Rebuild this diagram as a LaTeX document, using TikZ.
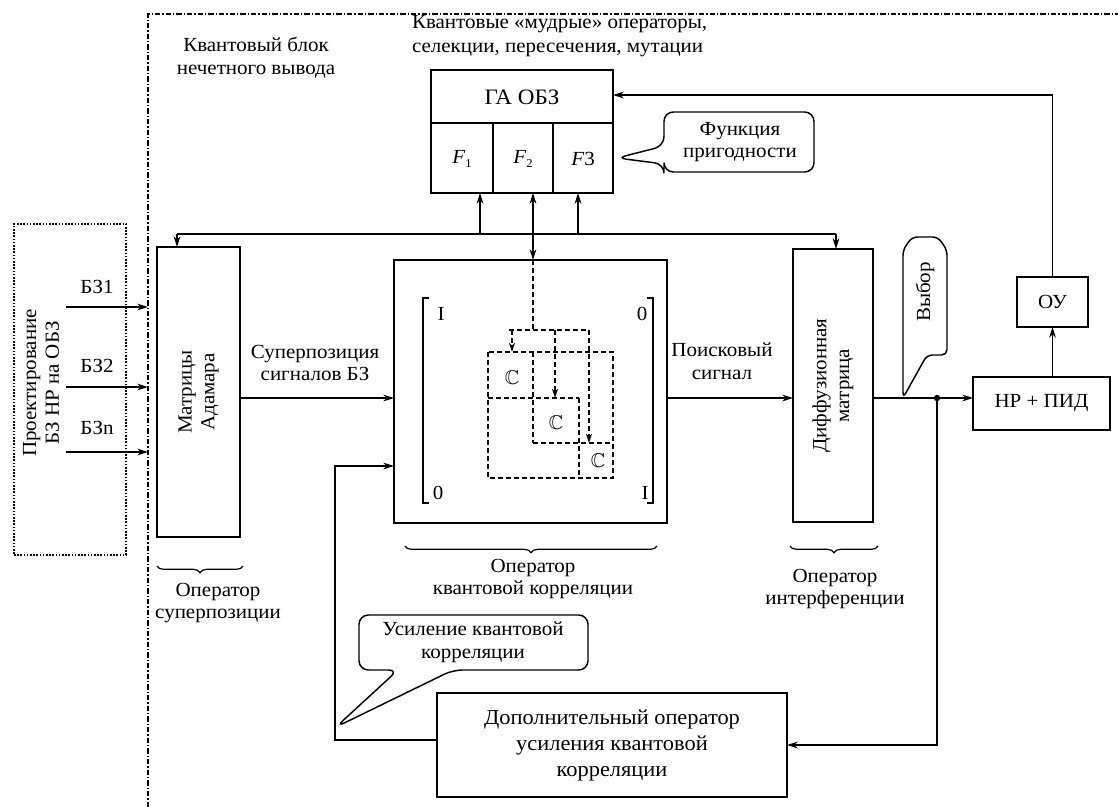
\documentclass[tikz,border=0pt]{standalone}
\usepackage{fontspec}
\setmainfont{Liberation Serif}[FakeStretch=1.05]
\usepackage{amssymb}
\usetikzlibrary{arrows.meta,decorations.pathreplacing,fit}
\begin{document}
\begin{tikzpicture}[x=0.75pt,y=-0.75pt,
  every node/.style={inner sep=0pt,outer sep=0pt},
  txt/.style={font=\fontsize{15}{17}\selectfont,align=center},
  bigtxt/.style={font=\fontsize{16}{19.5}\selectfont,align=center},
  thickbox/.style={draw,line width=1.5pt},
  thinbox/.style={draw,line width=0.85pt},
  conn/.style={line width=0.9pt},
  arr/.style={conn,-{Stealth[length=8pt,width=5pt]}},
  darr/.style={conn,{Stealth[length=8pt,width=5pt]}-{Stealth[length=8pt,width=5pt]}},
  dsh/.style={line width=0.9pt,dash pattern=on 3.5pt off 2.5pt},
  darrd/.style={dsh,-{Stealth[length=7pt,width=4.5pt]}},
  bubble/.style={draw,line width=1.1pt,rounded corners=7pt},
  opbrace/.style={conn,decorate,decoration={brace,mirror,amplitude=5pt}},
]
\useasboundingbox (0,0) rectangle (1118,807);

% outer frame of the quantum block
\draw[line width=0.8pt,dash pattern=on 4pt off 1.5pt on 1pt off 1.5pt] (148,807) -- (148,14) -- (1118,14);

% projection box
\node[draw,line width=0.8pt,dash pattern=on 1.2pt off 1.2pt,fit={(14,224)(126,555)}] (proj) {};
\node[txt,rotate=90] (projtxt) at (41,383) {Проектирование\\БЗ НР на ОБЗ};
\node[txt] (bz1) at (97,287) {БЗ1};
\node[txt] (bz2) at (97,366) {БЗ2};
\node[txt] (bzn) at (97,428) {БЗn};
\coordinate (s1) at (66,307); \coordinate (e1) at (148,307);
\coordinate (s2) at (66,387); \coordinate (e2) at (148,387);
\coordinate (s3) at (66,452); \coordinate (e3) at (148,452);
\draw[arr] (s1) -- (e1);
\draw[arr] (s2) -- (e2);
\draw[arr] (s3) -- (e3);

% titles
\node[txt,anchor=north west,align=left,font=\fontsize{15}{18.5}\selectfont] (qops) at (412,15) {Квантовые «мудрые» операторы,\\селекции, пересечения, мутации};
\node[txt] (qblock) at (256,58) {Квантовый блок\\нечетного вывода};

% Hadamard
\node[thickbox,fit={(157,247)(240,537)}] (had) {};
\node[txt,rotate=90] (hadtxt) at (had.center) {Матрицы\\Адамара};

% correlation operator
\node[thinbox,fit={(394,260)(667,523)}] (corr) {};
\draw[conn] (429,298) -- (423,298) -- (423,503) -- (429,503);
\draw[conn] (647,298) -- (653,298) -- (653,503) -- (647,503);
\node[txt] (m11) at (441,314) {I};
\node[txt] (m12) at (642,314) {0};
\node[txt] (m21) at (438,493) {0};
\node[txt] (m22) at (645,493) {I};
\node[txt] (c1) at (512,378) {$\mathbb{C}$};
\node[txt] (c2) at (556,423) {$\mathbb{C}$};
\node[txt] (c3) at (598,461) {$\mathbb{C}$};
\draw[dsh] (488,352) rectangle (613,478);
\draw[dsh] (488,398) -- (579,398);
\draw[dsh] (533,352) -- (533,443);
\draw[dsh] (533,443) -- (613,443);
\draw[dsh] (579,398) -- (579,478);
\draw[dsh] (509,330) -- (589,330);
\draw[darrd] (512,330) -- (512,352);
\draw[darrd] (555,330) -- (555,398);
\draw[darrd] (589,330) -- (589,443);

% diffusion
\node[thickbox,fit={(793,249)(873,522)}] (diff) {};
\node[txt,rotate=90] (difftxt) at (diff.center) {Диффузионная\\матрица};

% GA box
\node[thickbox,fit={(431,70)(613,193)}] (ga) {};
\draw[conn] (431,123) -- (613,123);
\draw[conn] (493,123) -- (493,193);
\draw[conn] (553,123) -- (553,193);
\node[txt,font=\fontsize{16.5}{18}\selectfont] (gatxt) at (522,97) {ГА ОБЗ};
\node[txt] (f1) at (462,159) {\textit{F}\raisebox{-0.5ex}{\small 1}};
\node[txt] (f2) at (523,159) {\textit{F}\raisebox{-0.5ex}{\small 2}};
\node[txt] (f3) at (583,159) {\textit{F}3};

% bus
\coordinate (busL) at (177,234);
\coordinate (busR) at (836,234);
\coordinate (bf1) at (480,234);
\coordinate (bf3) at (578,234);
\coordinate (f2x) at (533,234);
\coordinate (dtop) at (533,330);
\draw[conn] (busL) -- (busR);
\draw[arr] (busL) -- (had.north -| busL);
\draw[arr] (busR) -- (diff.north -| busR);
\draw[arr] (bf1) -- (ga.south -| bf1);
\draw[arr] (bf3) -- (ga.south -| bf3);
\draw[darr] (ga.south -| f2x) -- (corr.north -| f2x);
\draw[dsh] (corr.north -| f2x) -- (dtop);

% signal path
\coordinate (y398) at (0,398);
\node[txt] (suplbl) at (315,363) {Суперпозиция\\сигналов БЗ};
\draw[arr] (had.east |- y398) -- (corr.west |- y398);
\node[txt] (poisk) at (722,361) {Поисковый\\сигнал};
\draw[arr] (corr.east |- y398) -- (diff.west |- y398);

% right part
\node[thickbox,fit={(973,377)(1110,430)}] (nrpid) {};
\node[txt] (nrpidtxt) at (nrpid.center) {НР + ПИД};
\node[thickbox,fit={(1017,277)(1088,327)}] (ou) {};
\node[txt] (outxt) at (ou.center) {ОУ};
\coordinate (dot) at (937,398);
\coordinate (gaIn) at (613,95);
\draw[conn] (diff.east |- dot) -- (dot);
\draw[arr] (dot) -- (nrpid.west |- dot);
\fill (dot) circle (2.4pt);
\draw[arr] (nrpid.north -| ou.center) -- (ou.south);
\draw[arr] (ou.north) |- (gaIn);

% bottom box
\node[thickbox,fit={(437,693)(787,797)}] (amp) {};
\node[bigtxt] (amptxt) at (amp.center) {Дополнительный оператор\\усиления квантовой\\корреляции};
\draw[arr] (dot) |- (amp.east);
\coordinate (fbL) at (335,740);
\coordinate (y466) at (0,466);
\draw[arr] (amp.west |- fbL) -- (fbL) |- (corr.west |- y466);

% callouts
\draw[bubble] (617,158) -- (664,146) -- (664,112) -- (814,112) -- (814,172) -- (664,172) -- (664,164) -- cycle;
\node[txt] (fitn) at (740,142) {Функция\\пригодности};
\draw[bubble,rounded corners=4pt] (903,398) -- (903,250) -- (912,237) -- (938,237) -- (947,250) -- (947,355) -- (927,355) -- cycle;
\node[txt,rotate=90] (vybor) at (925,292) {Выбор};
\draw[bubble] (336,727) -- (398,670) -- (359,670) -- (359,615) -- (588,615) -- (588,670) -- (453,670) -- cycle;
\node[txt] (usil) at (473,642) {Усиление квантовой\\корреляции};

% braces
\draw[opbrace] (157,566) -- (243,566);
\node[txt] (opsup) at (218,603) {Оператор\\суперпозиции};
\draw[opbrace] (405,546) -- (657,546);
\node[txt] (opcorr) at (533,579) {Оператор\\квантовой корреляции};
\draw[opbrace] (790,546) -- (878,546);
\node[txt] (opint) at (835,589) {Оператор\\интерференции};
\end{tikzpicture}
\end{document}
